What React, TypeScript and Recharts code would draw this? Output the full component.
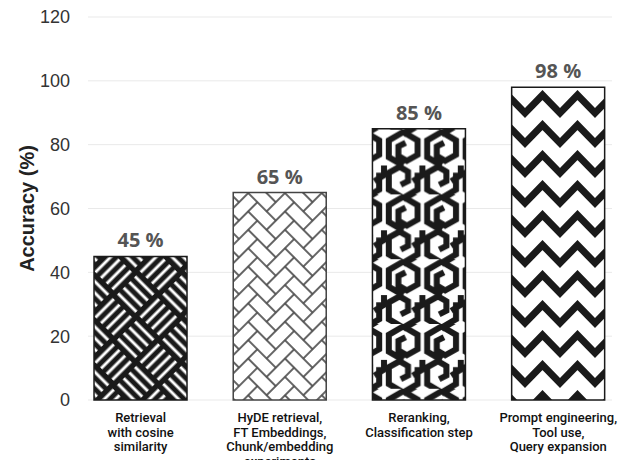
import React from 'react';
import { BarChart, Bar, XAxis, YAxis, CartesianGrid, Cell, LabelList } from 'recharts';

const categories = [
    ['Retrieval', 'with cosine', 'similarity'],
    ['HyDE retrieval,', 'FT Embeddings,', 'Chunk/embedding', 'experiments'],
    ['Reranking,', 'Classification step'],
    ['Prompt engineering,', 'Tool use,', 'Query expansion'],
];
const accuracy = [45, 65, 85, 98];
const yTicks = [0, 20, 40, 60, 80, 100, 120];
const patternIds = ['weave', 'herring', 'hexmaze', 'zigzag'];
const borderColors = ['#1a1a1a', '#444444', '#1a1a1a', '#1a1a1a'];

const data = accuracy.map((v, i) => ({ x: i, value: v }));

// herringbone bricks for the second bar (unit u, lattice (1,1) and (2,-2))
const u = 13;
const bricks: { x: number; y: number; w: number; h: number }[] = [];
for (let a = -6; a <= 6; a++) {
    for (let b = -3; b <= 3; b++) {
        const px = (a + 2 * b) * u;
        const py = (a - 2 * b) * u;
        bricks.push({ x: px, y: py, w: 2 * u, h: u });
        bricks.push({ x: px, y: py + u, w: u, h: 2 * u });
    }
}

const Patterns = () => {
    const s = 32;
    const stripes = [4, 12, 20, 28];
    return (
        <svg width={0} height={0} style={{ position: 'absolute' }}>
            <defs>
                <pattern id="weave" patternUnits="userSpaceOnUse" width={2 * s} height={2 * s} patternTransform="rotate(45)">
                    <rect width={2 * s} height={2 * s} fill="#1a1a1a" />
                    {[0, 1].map(q => stripes.map(o => (
                        <React.Fragment key={q + '-' + o}>
                            <line x1={q * s + 3} x2={q * s + s - 3} y1={q * s + o} y2={q * s + o} stroke="#fff" strokeWidth={3} />
                            <line x1={(1 - q) * s + o} x2={(1 - q) * s + o} y1={q * s + 3} y2={q * s + s - 3} stroke="#fff" strokeWidth={3} />
                        </React.Fragment>
                    )))}
                </pattern>
                <pattern id="herring" patternUnits="userSpaceOnUse" width={4 * u} height={4 * u} patternTransform="rotate(45)">
                    <rect width={4 * u} height={4 * u} fill="#fff" />
                    {bricks.map((r, i) => (
                        <rect key={i} x={r.x} y={r.y} width={r.w} height={r.h} fill="none" stroke="#505050" strokeWidth={1.3} />
                    ))}
                </pattern>
                <pattern id="hexmaze" patternUnits="userSpaceOnUse" width={32} height={54} patternTransform="scale(1.2)">
                    <rect width={32} height={54} fill="#fff" />
                    <g fill="none" stroke="#1a1a1a" strokeWidth={5} strokeLinejoin="miter">
                        <polyline points="16,30 4,23 4,9 16,2 28,9 28,21 19,26 12,22 12,14 18,11" />
                        <polyline points="16,-24 28,-17 28,-3 16,4" />
                        <polyline points="0,30 0,38 -8,43" />
                        <polyline points="32,30 32,38 24,43" />
                        <polyline points="16,57 4,50 4,36 13,31 20,35 20,43 14,46" />
                        <polyline points="28,36 28,50 16,57" />
                    </g>
                </pattern>
                <pattern id="zigzag" patternUnits="userSpaceOnUse" width={35} height={30}>
                    <rect width={35} height={30} fill="#fff" />
                    <g fill="none" stroke="#1a1a1a" strokeWidth={7} strokeLinejoin="miter">
                        {[-30, 0, 30].map(dy => (
                            <polyline key={dy} points={`-17.5,${5 + dy} 0,${23 + dy} 17.5,${5 + dy} 35,${23 + dy} 52.5,${5 + dy}`} />
                        ))}
                    </g>
                </pattern>
            </defs>
        </svg>
    );
};

const CategoryTick = (props: any) => {
    const { x, y, payload } = props;
    const lines = categories[payload.value] || [];
    return (
        <text x={x} y={y} textAnchor="middle" fontFamily="Roboto" fontWeight={500} fontSize={13} fill="#111">
            {lines.map((l, i) => (
                <tspan key={i} x={x} dy={i === 0 ? 20 : 14.5}>{l}</tspan>
            ))}
        </text>
    );
};

const YLabel = (props: any) => {
    const { viewBox } = props;
    const cy = viewBox.y + viewBox.height / 2;
    return (
        <text x={34} y={cy} transform={`rotate(-90 34 ${cy})`} textAnchor="middle" fontFamily="Liberation Sans" fontWeight={700} fontSize={20} fill="#222">
            Accuracy (%)
        </text>
    );
};

const App = () => {
    return (
        <div style={{ position: 'absolute', left: 0, top: 0, width: 626, height: 460, background: '#fff' }}>
            <Patterns />
            <BarChart width={626} height={460} data={data} margin={{ top: 17, right: 14, left: 0, bottom: 0 }}>
                <CartesianGrid vertical={false} stroke="#e9e9e9" />
                <XAxis
                    dataKey="x"
                    type="number"
                    domain={[-0.378, 3.386]}
                    ticks={[0, 1, 2, 3]}
                    axisLine={false}
                    tickLine={false}
                    tickSize={0}
                    height={60}
                    tick={<CategoryTick />}
                    interval={0}
                />
                <YAxis
                    domain={[0, 120]}
                    ticks={yTicks}
                    width={88}
                    axisLine={false}
                    tickLine={false}
                    tickSize={0}
                    tickMargin={18}
                    tick={{ fontFamily: 'Liberation Sans', fontSize: 18, fill: '#333' }}
                    label={<YLabel />}
                />
                <Bar dataKey="value" barSize={93} isAnimationActive={false}>
                    {data.map((d, i) => (
                        <Cell key={i} fill={`url(#${patternIds[i]})`} stroke={borderColors[i]} strokeWidth={1.5} />
                    ))}
                    <LabelList
                        dataKey="value"
                        position="top"
                        offset={9}
                        formatter={(v: any) => `${v} %`}
                        style={{ fontFamily: 'Open Sans', fontWeight: 700, fontSize: 20, fill: '#555' }}
                    />
                </Bar>
            </BarChart>
        </div>
    );
};

export default App;
